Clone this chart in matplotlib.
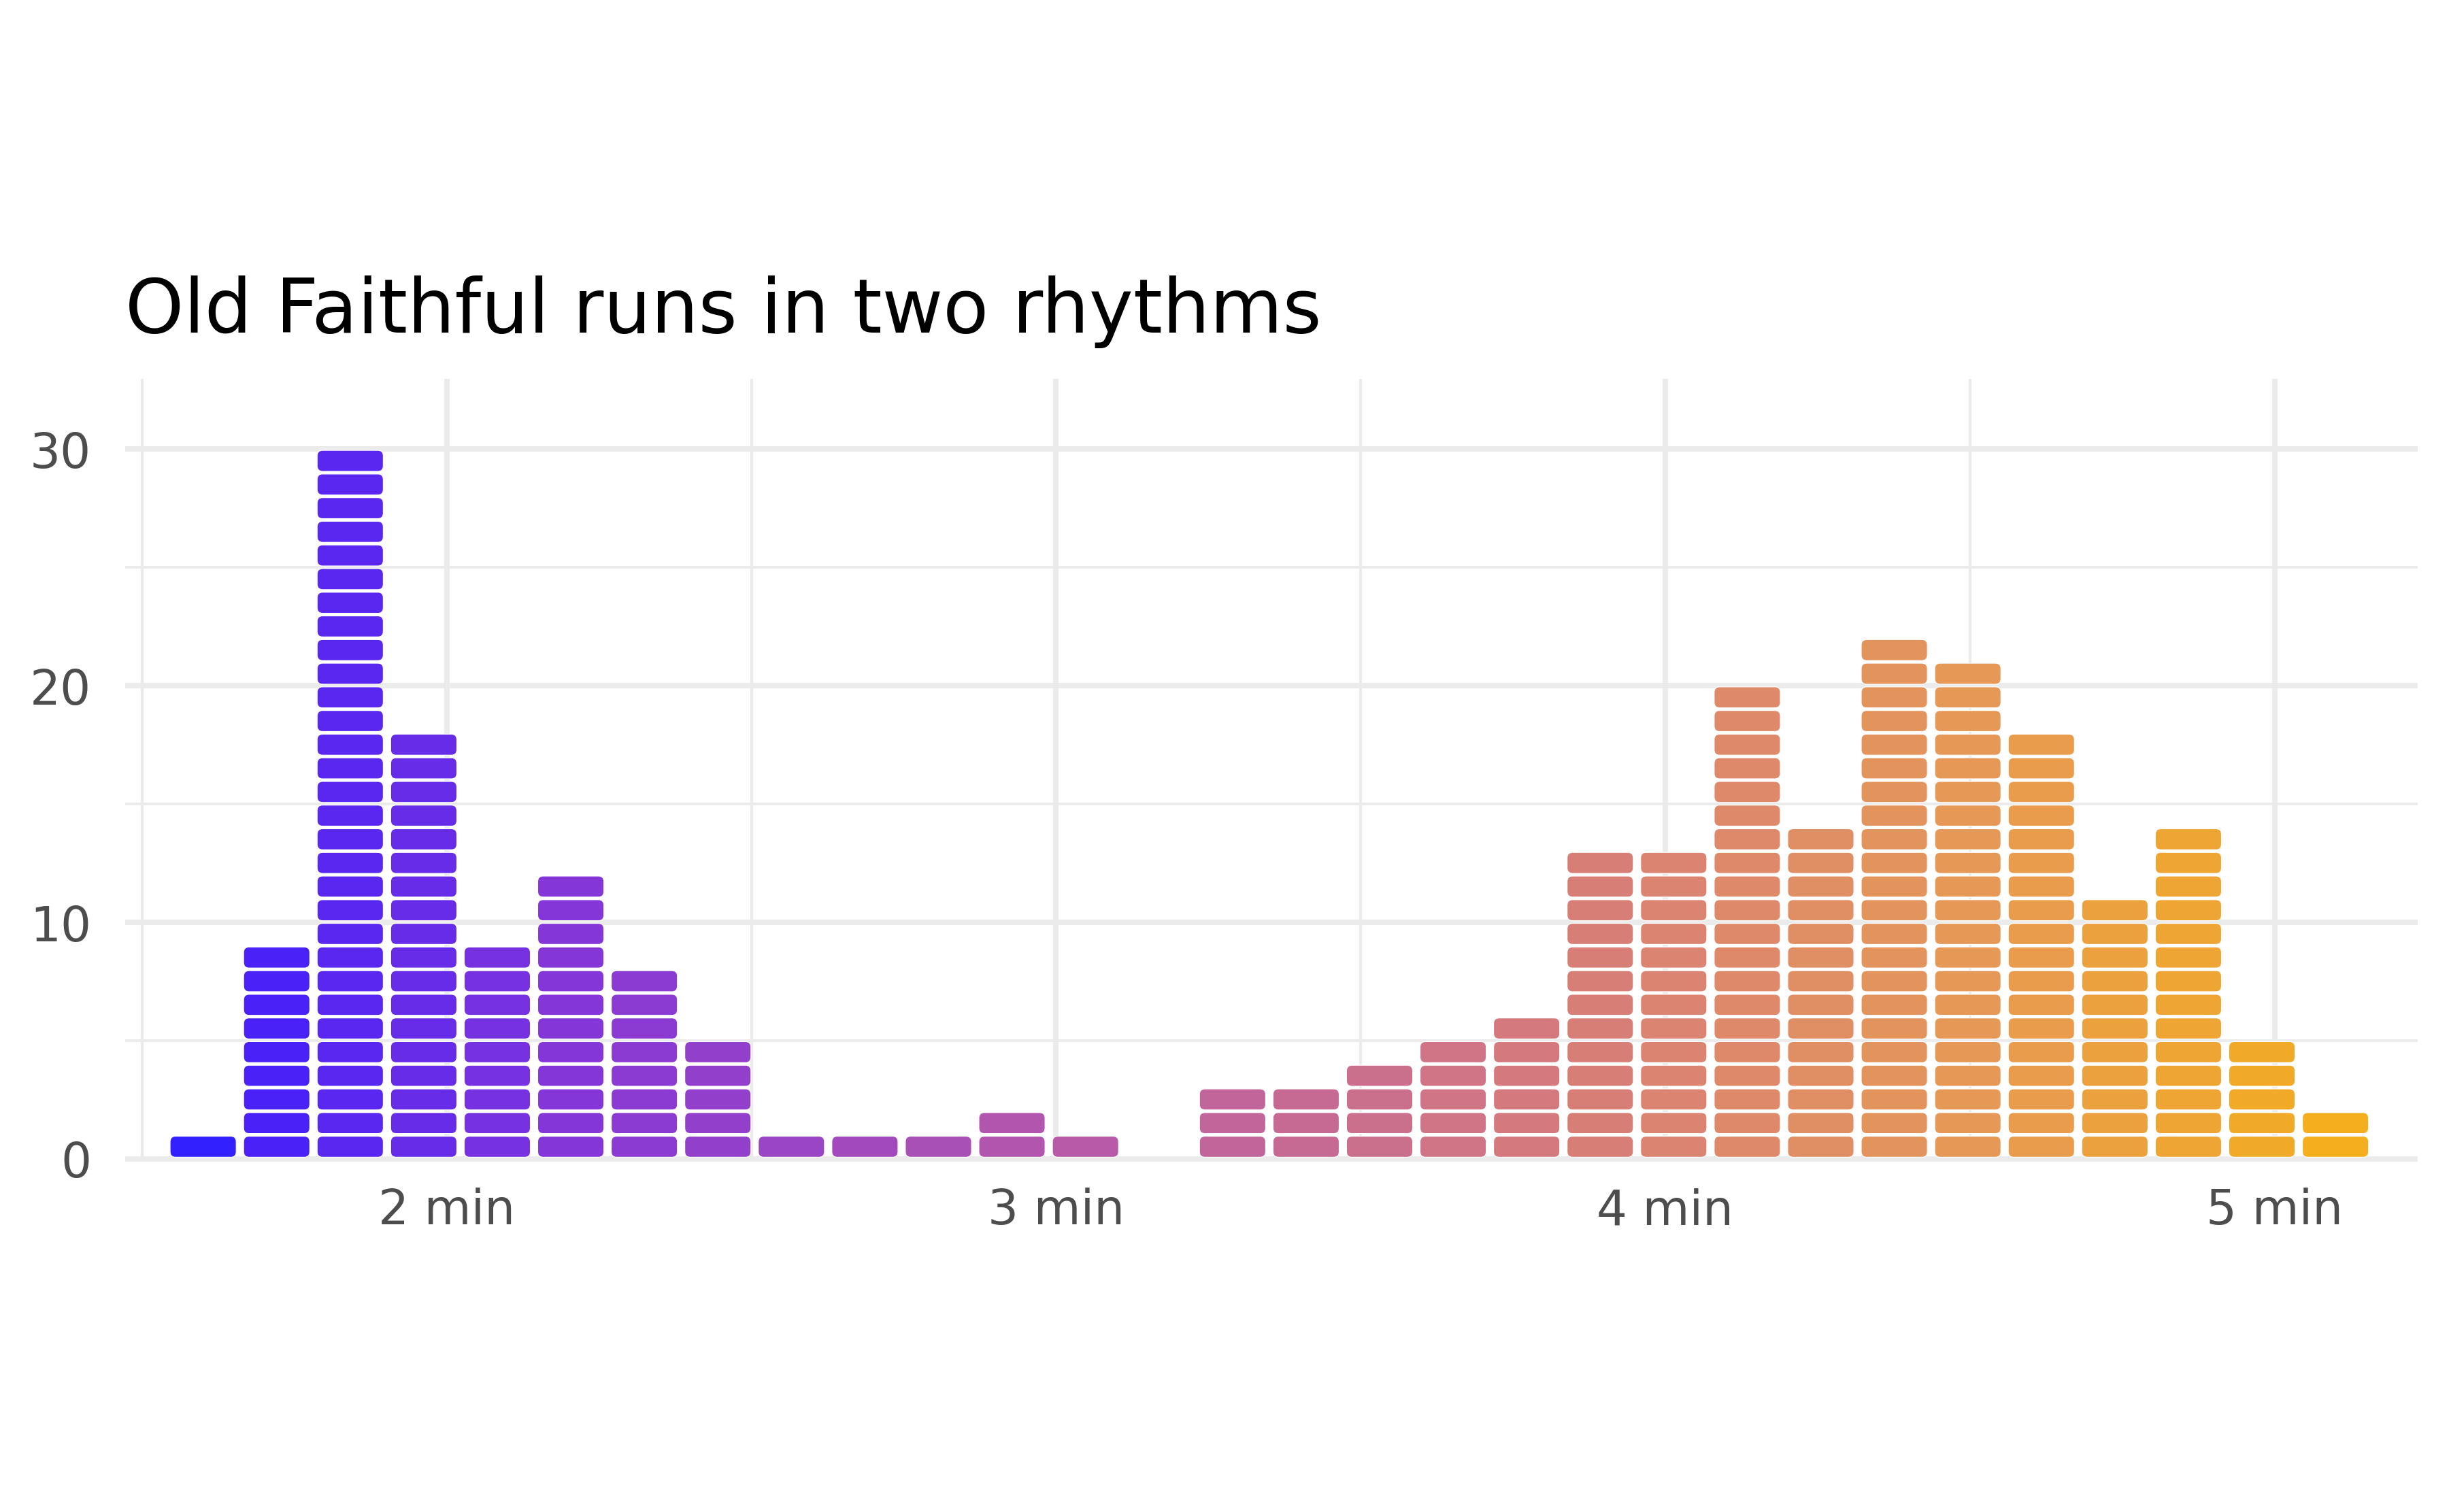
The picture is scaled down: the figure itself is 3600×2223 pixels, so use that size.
import numpy as np
import matplotlib
matplotlib.use("Agg")
import matplotlib.pyplot as plt
from matplotlib.patches import FancyBboxPatch
from matplotlib.colors import LinearSegmentedColormap
from matplotlib.ticker import MultipleLocator, FixedLocator

# eruption length bins (centres, minutes) and number of eruptions per bin
bin_first = 1.6
bin_last = 5.1
counts = [1, 9, 30, 18, 9, 12, 8, 5, 1, 1, 1, 2, 1, 0, 3,
          3, 4, 5, 6, 13, 13, 20, 14, 22, 21, 18, 11, 14, 5, 2]
x_ticks = [2, 3, 4, 5]
x_tick_labels = ["2 min", "3 min", "4 min", "5 min"]
y_ticks = [0, 10, 20, 30]
title = "Old Faithful runs in two rhythms"

centres = np.linspace(bin_first, bin_last, len(counts))
width = centres[1] - centres[0]
nb = len(counts) - 1

grad = LinearSegmentedColormap.from_list("faithful", [
    (0.0, "#3320ff"), (1 / nb, "#4c22f6"), (5 / nb, "#8436d8"),
    (12 / nb, "#b85aa8"), (18 / nb, "#d47a7e"), (24 / nb, "#e69856"),
    (1.0, "#f4ae1e")])

fig = plt.figure(figsize=(12, 7.413), dpi=300)
W, H = 3600, 2224
ax = fig.add_axes([184 / W, (H - 1709) / H, (3554 - 184) / W, (1709 - 558) / H])
ax.set_xlim(1.472, 5.235)
ax.set_ylim(-0.13, 32.97)

for s in ax.spines.values():
    s.set_visible(False)
ax.xaxis.set_major_locator(FixedLocator(x_ticks))
ax.set_xticklabels(x_tick_labels)
ax.xaxis.set_minor_locator(MultipleLocator(0.5))
ax.yaxis.set_major_locator(FixedLocator(y_ticks))
ax.yaxis.set_minor_locator(MultipleLocator(5))
ax.grid(which="major", color="#ebebeb", linewidth=1.9)
ax.grid(which="minor", color="#ebebeb", linewidth=1.0)
ax.set_axisbelow(True)
ax.tick_params(which="both", length=0, labelsize=17, labelcolor="#4d4d4d")
ax.tick_params(axis="x", pad=9)
ax.tick_params(axis="y", pad=12)

# aspect so the corners come out round in pixels
fig.canvas.draw()
p0 = ax.transData.transform((0, 0))
p1 = ax.transData.transform((1, 1))
aspect = (p1[0] - p0[0]) / (p1[1] - p0[1])

unit_w = width * 0.9
unit_h = 0.89
r = 0.009
for i, (c, n) in enumerate(zip(centres, counts)):
    col = grad(i / nb)
    for k in range(n):
        y0 = k + 0.06
        box = FancyBboxPatch((c - unit_w / 2, y0), unit_w, unit_h,
                             boxstyle=f"round,pad=0,rounding_size={r}",
                             mutation_aspect=aspect,
                             facecolor=col, edgecolor="white", linewidth=0.3)
        ax.add_patch(box)

fig.text(184 / W, 1 - 489 / H, title, fontsize=26.3, color="black",
         ha="left", va="baseline")

fig.savefig("out.png", dpi=300, facecolor="white")
